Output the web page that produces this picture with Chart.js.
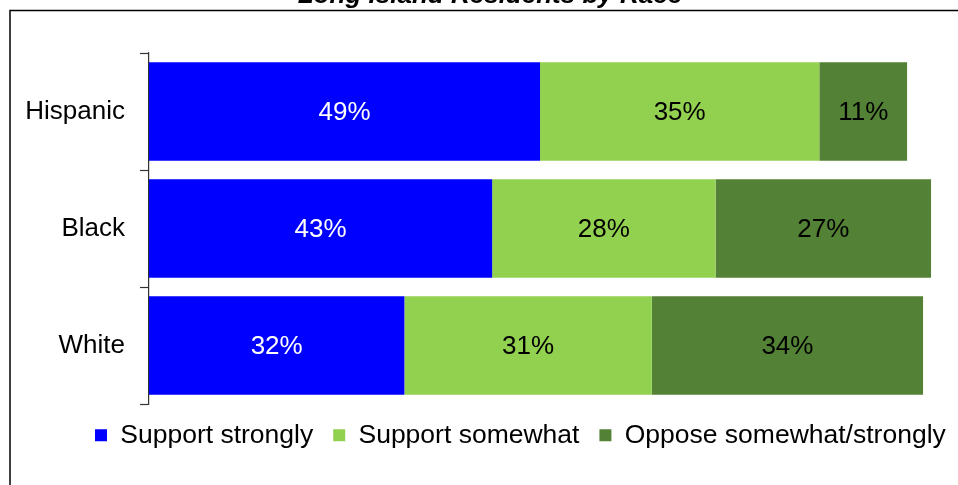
<!DOCTYPE html>
<html>
<head>
<meta charset="utf-8">
<script src="https://cdn.jsdelivr.net/npm/chart.js@4"></script>
<style>
  html, body { margin: 0; padding: 0; background: #fff; }
  #wrap { position: relative; width: 958px; height: 485px; }
</style>
</head>
<body>
<div id="wrap"><canvas id="myChart" width="958" height="485"></canvas></div>
<script>
// chart data
var chartTitle = 'Long Island Residents by Race';
var categories = ['Hispanic', 'Black', 'White'];
var seriesNames = ['Support strongly', 'Support somewhat', 'Oppose somewhat/strongly'];
var supportStrongly = [49, 43, 32];
var supportSomewhat = [35, 28, 31];
var opposeSomewhat = [11, 27, 34];

var colors = {
    blue: '#0000FF',
    lightGreen: '#92D050',
    darkGreen: '#538135'
};
var FONT = '"Liberation Sans", Arial, sans-serif';

// frame + cut-off title
var framePlugin = {
    id: 'frame',
    afterDraw: function (chart) {
        var ctx = chart.ctx;
        ctx.save();
        ctx.strokeStyle = '#000';
        ctx.lineWidth = 1.5;
        ctx.beginPath();
        ctx.moveTo(10, 485);
        ctx.lineTo(10, 10.5);
        ctx.lineTo(958, 10.5);
        ctx.stroke();
        ctx.fillStyle = '#000';
        ctx.font = 'italic bold 26px ' + FONT;
        ctx.textAlign = 'center';
        ctx.textBaseline = 'alphabetic';
        ctx.fillText(chartTitle, 490, 3);
        ctx.restore();
    }
};

// nudge the legend to where the original sits
var legendShift = {
    id: 'legendShift',
    afterLayout: function (chart) {
        var lg = chart.legend;
        lg.left += 75;
        lg.right += 75;
        lg.top -= 2;
        lg.bottom -= 2;
    }
};

// value labels in the middle of every bar segment
var valueLabels = {
    id: 'valueLabels',
    afterDatasetsDraw: function (chart) {
        var ctx = chart.ctx;
        ctx.save();
        ctx.font = '26px ' + FONT;
        ctx.textAlign = 'center';
        ctx.textBaseline = 'middle';
        chart.data.datasets.forEach(function (ds, i) {
            chart.getDatasetMeta(i).data.forEach(function (bar, j) {
                var p = bar.getProps(['x', 'y', 'base'], true);
                ctx.fillStyle = i === 0 ? '#fff' : '#000';
                ctx.fillText(ds.data[j] + '%', (p.x + p.base) / 2, p.y + 1);
            });
        });
        ctx.restore();
    }
};

var ctx = document.getElementById('myChart').getContext('2d');
new Chart(ctx, {
    type: 'bar',
    data: {
        labels: categories,
        datasets: [
            { label: seriesNames[0], data: supportStrongly, backgroundColor: colors.blue },
            { label: seriesNames[1], data: supportSomewhat, backgroundColor: colors.lightGreen },
            { label: seriesNames[2], data: opposeSomewhat, backgroundColor: colors.darkGreen }
        ]
    },
    options: {
        indexAxis: 'y',
        responsive: false,
        animation: false,
        layout: { padding: { left: 0, right: 11, top: 53, bottom: 24.5 } },
        datasets: { bar: { barPercentage: 0.84, categoryPercentage: 1 } },
        scales: {
            x: {
                stacked: true,
                min: 0,
                max: 100,
                display: false
            },
            y: {
                stacked: true,
                afterFit: function (scale) { scale.width = 149; },
                grid: { drawOnChartArea: false, tickLength: 9, tickColor: '#333', tickWidth: 1.2 },
                border: { color: '#333', width: 1.2 },
                ticks: { color: '#000', padding: 15, font: { family: FONT, size: 26 } }
            }
        },
        plugins: {
            title: { display: false },
            tooltip: { enabled: false },
            legend: {
                position: 'bottom',
                align: 'start',
                labels: {
                    boxWidth: 12,
                    boxHeight: 12,
                    padding: 20,
                    color: '#000',
                    font: { family: FONT, size: 26.5 }
                }
            }
        }
    },
    plugins: [framePlugin, legendShift, valueLabels]
});
</script>
</body>
</html>
